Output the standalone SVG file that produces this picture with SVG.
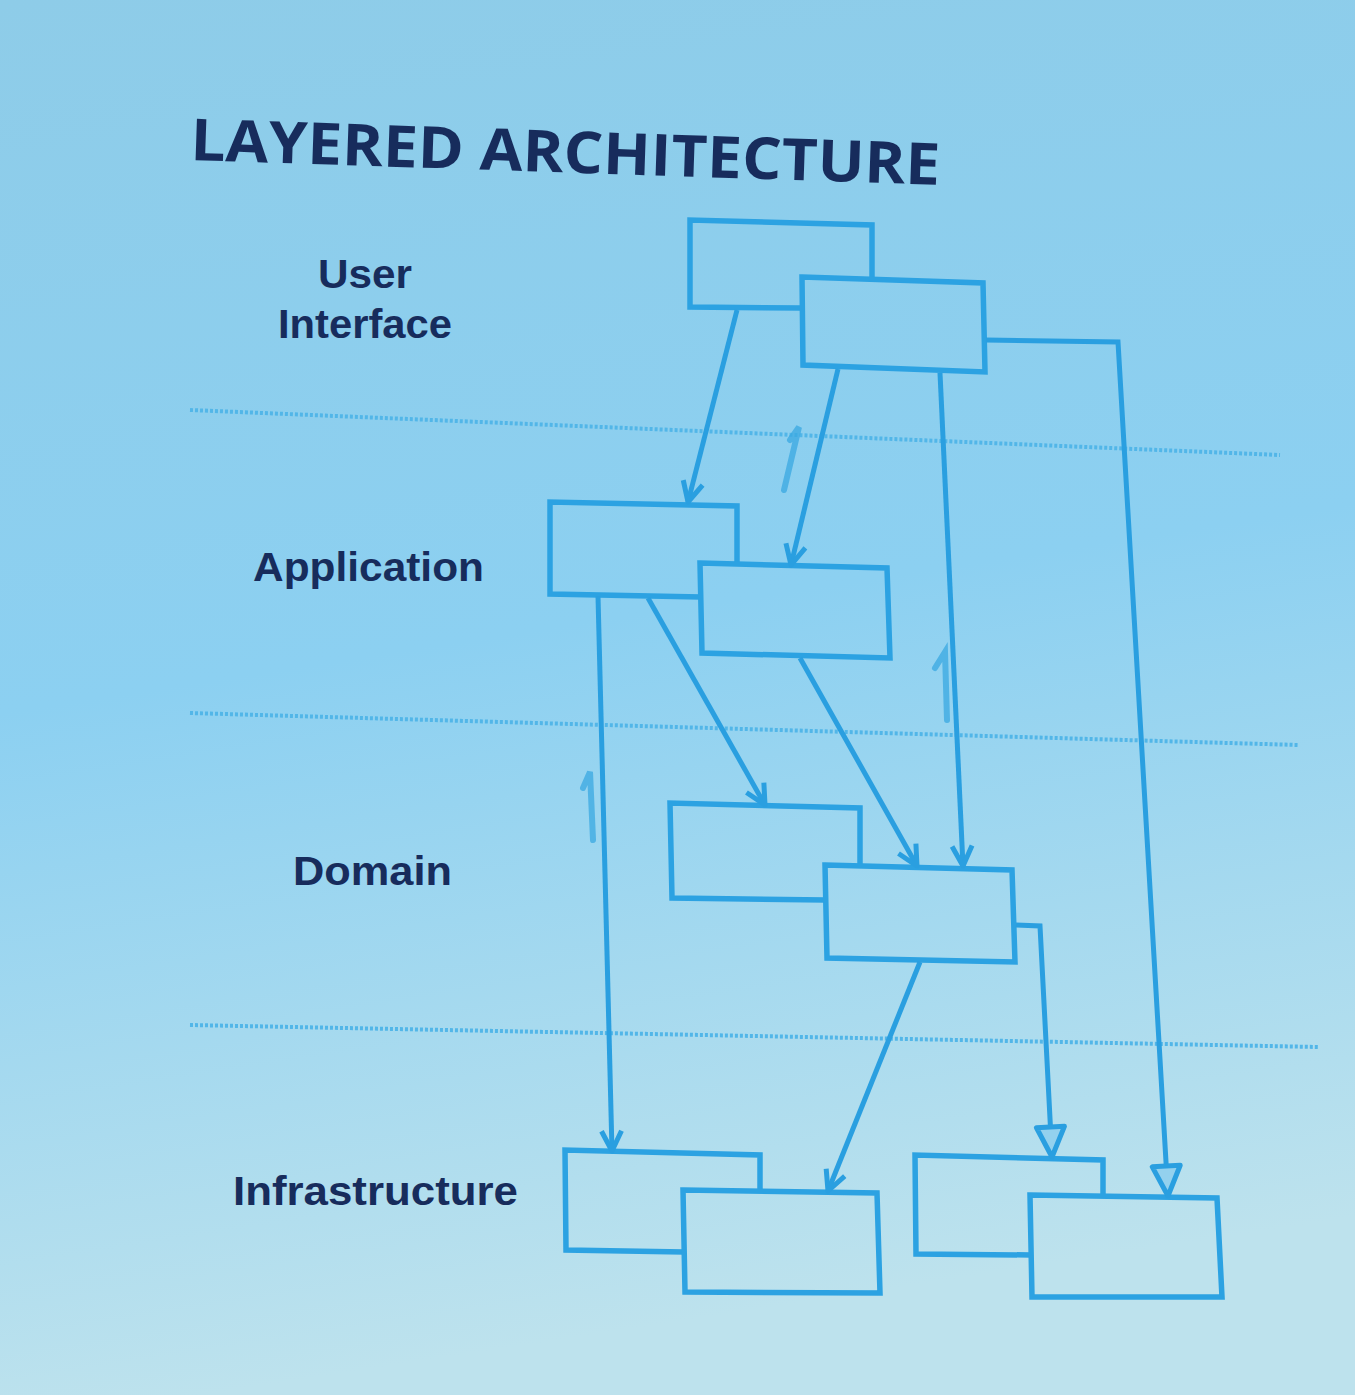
<svg xmlns="http://www.w3.org/2000/svg" width="1355" height="1395" viewBox="0 0 1355 1395">
<defs>
<linearGradient id="bg" x1="0" y1="0" x2="0.15" y2="1">
<stop offset="0" stop-color="#8ecce8"/>
<stop offset="0.5" stop-color="#8cd0f1"/>
<stop offset="1" stop-color="#bde2ed"/>
</linearGradient>
<marker id="open" markerUnits="userSpaceOnUse" markerWidth="30" markerHeight="30" viewBox="0 0 30 30" refX="26" refY="15" orient="auto">
<path d="M6,5 L26,15 L6,25" fill="none" stroke="#2a9fe0" stroke-width="5" stroke-linejoin="round"/>
</marker>
<marker id="tri" markerUnits="userSpaceOnUse" markerWidth="40" markerHeight="40" viewBox="0 0 40 40" refX="35" refY="20" orient="auto">
<path d="M5,6 L35,20 L5,34 Z" fill="#93d1ee" stroke="#2a9fe0" stroke-width="5" stroke-linejoin="round"/>
</marker>
</defs>
<style>
.box{fill:none;stroke:#2ca2e2;stroke-width:5.5;stroke-linejoin:miter}
.lbl{font-family:"Liberation Sans",Arial,sans-serif;font-weight:bold;font-size:40px;fill:#172c5c;lengthAdjust:spacingAndGlyphs}
.sep{stroke:#52b6e8;stroke-width:4;stroke-dasharray:3 2;fill:none}
.con{fill:none;stroke:#2a9fe0;stroke-width:5}
.ghost{fill:none;stroke:#3aa8e2;stroke-width:6;stroke-linecap:round;opacity:0.75}
</style>
<rect width="1355" height="1395" fill="url(#bg)"/>
<text x="190" y="160" transform="rotate(1.9 190 160)" font-family="'Open Sans','Liberation Sans',sans-serif" font-weight="bold" font-size="58" fill="#172c5c" textLength="750" lengthAdjust="spacingAndGlyphs">LAYERED ARCHITECTURE</text>
<g id="separators">
<line class="sep" x1="190" y1="410" x2="1280" y2="455"/>
<line class="sep" x1="190" y1="713" x2="1298" y2="745"/>
<line class="sep" x1="190" y1="1025" x2="1318" y2="1047"/>
</g>
<g id="labels">
<text class="lbl" x="318" y="288" textLength="94" lengthAdjust="spacingAndGlyphs">User</text>
<text class="lbl" x="278" y="338" textLength="174" lengthAdjust="spacingAndGlyphs">Interface</text>
<text class="lbl" x="253" y="581" textLength="231" lengthAdjust="spacingAndGlyphs">Application</text>
<text class="lbl" x="293" y="885" textLength="159" lengthAdjust="spacingAndGlyphs">Domain</text>
<text class="lbl" x="233" y="1205" textLength="285" lengthAdjust="spacingAndGlyphs">Infrastructure</text>
</g>
<g id="ui1"><path class="box" d="M802,308 L690,307 L690,220 L872,225 L872,279"/></g>
<g id="ui2"><polygon class="box" points="802,277 983,283 985,372 803,365"/></g>
<g id="app1"><path class="box" d="M701,597 L550,594 L550,502 L737,506 L737,565"/></g>
<g id="app2"><polygon class="box" points="700,563 887,568 890,658 702,653"/></g>
<g id="dom1"><path class="box" d="M826,900 L672,898 L670,803 L860,808 L860,867"/></g>
<g id="dom2"><polygon class="box" points="825,865 1012,870 1015,962 827,958"/></g>
<g id="inf1"><path class="box" d="M684,1252 L566,1250 L565,1150 L760,1155 L760,1192"/></g>
<g id="inf2"><polygon class="box" points="683,1190 877,1193 880,1293 685,1292"/></g>
<g id="inf3"><path class="box" d="M1031,1255 L916,1254 L915,1155 L1103,1160 L1103,1197"/></g>
<g id="inf4"><polygon class="box" points="1030,1195 1217,1198 1222,1297 1032,1297"/></g>
<g id="connectors">
<path class="con" marker-end="url(#open)" d="M737,310 L688,502"/>
<path class="con" marker-end="url(#open)" d="M838,369 L791,565"/>
<path class="con" marker-end="url(#open)" d="M940,373 L963,866"/>
<path class="con" marker-end="url(#tri)" d="M986,340 L1118,342 L1168,1196"/>
<path class="con" marker-end="url(#open)" d="M598,596 L612,1151"/>
<path class="con" marker-end="url(#open)" d="M648,598 L765,805"/>
<path class="con" marker-end="url(#open)" d="M800,658 L917,866"/>
<path class="con" marker-end="url(#open)" d="M920,962 L828,1191"/>
<path class="con" marker-end="url(#tri)" d="M1016,925 L1040,926 L1052,1157"/>
</g>
<g id="marks">
<path class="ghost" d="M784,490 L799,427 L790,440"/>
<path class="ghost" d="M947,720 L945,652 L935,668"/>
<path class="ghost" d="M593,840 L590,772 L583,788"/>
</g>
</svg>
